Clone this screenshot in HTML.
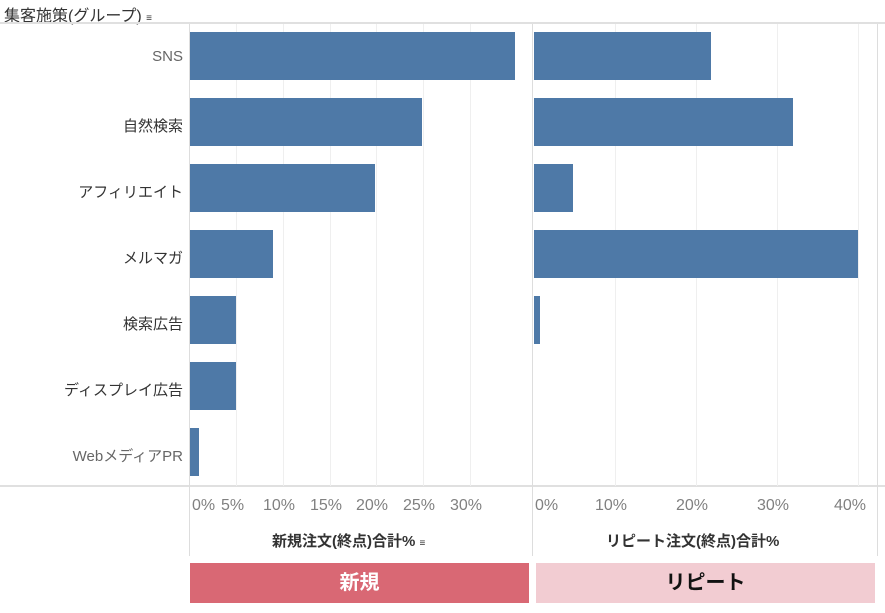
<!DOCTYPE html>
<html><head><meta charset="utf-8"><style>
body{margin:0;width:885px;height:613px;background:#fff;position:relative;overflow:hidden;font-family:"Liberation Sans","Noto Sans CJK JP",sans-serif}
div{position:absolute}
.bar{background:#4e79a7;height:48px}
.lab{right:702px;font-size:15px;color:#333;text-align:right;white-space:nowrap}
.g{top:24px;height:462px;width:1px;background:#efefef}
.t{top:497px;font-size:16px;color:#808080;white-space:nowrap}
</style></head><body>
<div style="left:4px;top:2px;font-size:16px;color:#333">集客施策(グループ) <span style="font-size:10px">≡</span></div>
<div style="left:0;top:22px;width:885px;height:2px;background:#e0e0e0"></div>
<div style="left:0;top:485px;width:885px;height:2px;background:#e0e0e0"></div>
<div style="left:189px;top:24px;width:1px;height:532px;background:#ddd"></div>
<div style="left:532px;top:24px;width:1px;height:532px;background:#ddd"></div>
<div style="left:877px;top:24px;width:1px;height:532px;background:#ddd"></div>
<div class="g" style="left:236px"></div><div class="g" style="left:283px"></div><div class="g" style="left:330px"></div><div class="g" style="left:376px"></div><div class="g" style="left:423px"></div><div class="g" style="left:470px"></div>
<div class="g" style="left:615px"></div><div class="g" style="left:696px"></div><div class="g" style="left:777px"></div><div class="g" style="left:858px"></div>

<div class="lab" style="top:48px;color:#666">SNS</div>
<div class="lab" style="top:115px">自然検索</div>
<div class="lab" style="top:181px">アフィリエイト</div>
<div class="lab" style="top:247px">メルマガ</div>
<div class="lab" style="top:313px">検索広告</div>
<div class="lab" style="top:379px">ディスプレイ広告</div>
<div class="lab" style="top:445px;color:#666">WebメディアPR</div>

<div class="bar" style="left:190px;top:32px;width:325px"></div>
<div class="bar" style="left:190px;top:98px;width:232px"></div>
<div class="bar" style="left:190px;top:164px;width:185px"></div>
<div class="bar" style="left:190px;top:230px;width:83px"></div>
<div class="bar" style="left:190px;top:296px;width:46px"></div>
<div class="bar" style="left:190px;top:362px;width:46px"></div>
<div class="bar" style="left:190px;top:428px;width:9px"></div>

<div class="bar" style="left:534px;top:32px;width:177px"></div>
<div class="bar" style="left:534px;top:98px;width:259px"></div>
<div class="bar" style="left:534px;top:164px;width:39px"></div>
<div class="bar" style="left:534px;top:230px;width:324px"></div>
<div class="bar" style="left:534px;top:296px;width:6px"></div>

<div class="t" style="left:192px">0%</div>
<div class="t" style="left:221px">5%</div>
<div class="t" style="left:263px">10%</div>
<div class="t" style="left:310px">15%</div>
<div class="t" style="left:356px">20%</div>
<div class="t" style="left:403px">25%</div>
<div class="t" style="left:450px">30%</div>
<div class="t" style="left:535px">0%</div>
<div class="t" style="left:595px">10%</div>
<div class="t" style="left:676px">20%</div>
<div class="t" style="left:757px">30%</div>
<div class="t" style="left:834px">40%</div>

<div style="left:272px;top:530px;font-size:15px;font-weight:bold;color:#333">新規注文(終点)合計% <span style="font-size:10px">≡</span></div>
<div style="left:606px;top:530px;font-size:15px;font-weight:bold;color:#333">リピート注文(終点)合計%</div>

<div style="left:190px;top:563px;width:339px;height:40px;background:#d96874;color:#fff;font-size:20px;font-weight:bold;text-align:center;line-height:40px">新規</div>
<div style="left:536px;top:563px;width:339px;height:40px;background:#f2ccd2;color:#111;font-size:20px;font-weight:bold;text-align:center;line-height:40px">リピート</div>
</body></html>
